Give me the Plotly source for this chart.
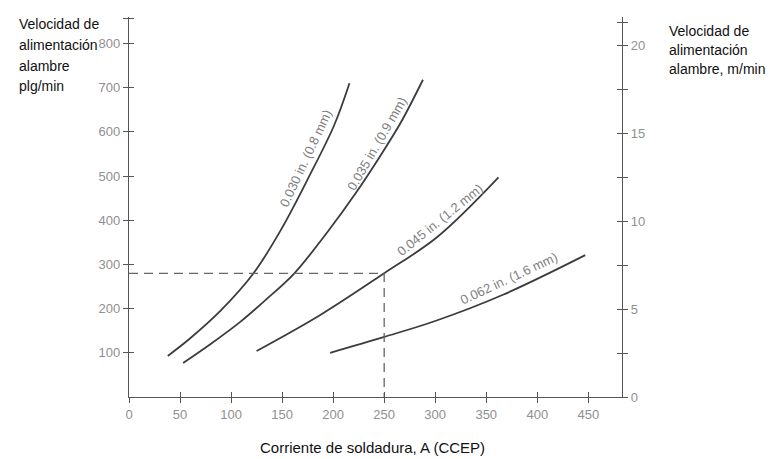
import plotly.graph_objects as go

# ---- data (welding current A, wire feed speed in/min) ----
c030_x = [38, 60, 90, 122, 150, 176, 201, 216]
c030_y = [93, 133, 196, 280, 383, 497, 615, 710]
c035_x = [53, 80, 109, 135, 162, 195, 222, 246, 266, 288]
c035_y = [77, 120, 170, 222, 280, 375, 461, 545, 620, 718]
c045_x = [125, 187, 250, 302, 362]
c045_y = [104, 185, 280, 362, 497]
c062_x = [197, 250, 300, 367, 447]
c062_y = [100, 136, 172, 232, 321]

ref_current = 250
ref_speed = 280

labels = ["0.030 in. (0.8 mm)", "0.035 in. (0.9 mm)", "0.045 in. (1.2 mm)", "0.062 in. (1.6 mm)"]
label_pos = [(173, 540, -65), (243, 574, -60), (305, 402, -39), (372, 269, -25)]

x_ticks = [0, 50, 100, 150, 200, 250, 300, 350, 400, 450]
y_left_ticks = [100, 200, 300, 400, 500, 600, 700, 800, 856]
y_left_text = ["100", "200", "300", "400", "500", "600", "700", "800", ""]
y_right_ticks = [0, 2.5, 5, 7.5, 10, 12.5, 15, 17.5, 20, 21.3]
y_right_text = ["0", "", "5", "", "10", "", "15", "", "20", ""]

X_RANGE = [0, 483]
YL_RANGE = [0, 860]
YR_RANGE = [0, 21.6]

LINE = "#3c3c3c"
AX = "#555555"
TICKC = "#8f8f8f"
FONT = "Liberation Sans, Arial, sans-serif"

fig = go.Figure()

for xs, ys in [(c030_x, c030_y), (c035_x, c035_y), (c045_x, c045_y), (c062_x, c062_y)]:
    fig.add_trace(go.Scatter(x=xs, y=ys, mode="lines", line=dict(color=LINE, width=1.8, shape="spline", smoothing=1.0),
                             showlegend=False, hoverinfo="skip"))

# reference dashed lines
fig.add_trace(go.Scatter(x=[0, ref_current, ref_current], y=[ref_speed, ref_speed, 0], mode="lines",
                         line=dict(color="#666666", width=1.3, dash="9px,6px"),
                         showlegend=False, hoverinfo="skip"))

# dummy traces to activate extra axes
fig.add_trace(go.Scatter(x=[None], y=[None], xaxis="x2", yaxis="y3", showlegend=False))
fig.add_trace(go.Scatter(x=[None], y=[None], xaxis="x", yaxis="y2", showlegend=False))
fig.add_trace(go.Scatter(x=[None], y=[None], xaxis="x", yaxis="y4", showlegend=False))

tickfont = dict(family=FONT, size=13, color=TICKC)

fig.update_layout(
    width=770, height=459,
    margin=dict(l=129, r=148, t=17, b=62),
    paper_bgcolor="white", plot_bgcolor="white",
    xaxis=dict(range=X_RANGE, showgrid=False, zeroline=False, showline=True, linecolor=AX, linewidth=1.2,
               ticks="outside", ticklen=5, tickwidth=1.2, tickcolor=AX, tickvals=x_ticks,
               tickfont=tickfont, anchor="y"),
    xaxis2=dict(range=X_RANGE, overlaying="x", showgrid=False, zeroline=False, showline=False,
                ticks="inside", ticklen=5, tickwidth=1.2, tickcolor=AX, tickvals=x_ticks,
                showticklabels=False, anchor="y", side="bottom"),
    yaxis=dict(range=YL_RANGE, showgrid=False, zeroline=False, showline=True, linecolor=AX, linewidth=1.2,
               ticks="outside", ticklen=5, tickwidth=1.2, tickcolor=AX, tickvals=y_left_ticks,
               ticktext=y_left_text, tickfont=tickfont, anchor="x"),
    yaxis3=dict(range=YL_RANGE, overlaying="y", showgrid=False, zeroline=False, showline=False,
                ticks="inside", ticklen=5, tickwidth=1.2, tickcolor=AX, tickvals=y_left_ticks,
                showticklabels=False, anchor="x", side="left"),
    yaxis2=dict(range=YR_RANGE, overlaying="y", side="right", showgrid=False, zeroline=False,
                showline=True, linecolor=AX, linewidth=1.2, ticks="outside", ticklen=5, tickwidth=1.2,
                tickcolor=AX, tickvals=y_right_ticks, ticktext=y_right_text, tickfont=tickfont, anchor="x"),
    yaxis4=dict(range=YR_RANGE, overlaying="y", side="right", showgrid=False, zeroline=False,
                showline=False, ticks="inside", ticklen=5, tickwidth=1.2, tickcolor=AX,
                tickvals=y_right_ticks, showticklabels=False, anchor="x"),
    showlegend=False,
)

ann = []
for txt, (ax_, ay_, ang) in zip(labels, label_pos):
    ann.append(dict(x=ax_, y=ay_, xref="x", yref="y", text=txt, showarrow=False, textangle=ang,
                    font=dict(family=FONT, size=13, color="#808080")))

# titles positioned in figure pixels, converted to paper coordinates
pw = 770 - 129 - 148
ph = 459 - 17 - 62


def px_ann(px, py, text, size, anchor):
    return dict(x=(px - 129) / pw, y=(459 - 62 - py) / ph, xref="paper", yref="paper",
                xanchor=anchor, yanchor="middle", text=text, showarrow=False,
                font=dict(family=FONT, size=size, color="#111111"))


left_lines = ["Velocidad de", "alimentación", "alambre", "plg/min"]
left_y = [24, 45, 66, 86]
for t, yy in zip(left_lines, left_y):
    ann.append(px_ann(17, yy, t, 14, "left"))

right_lines = ["Velocidad de", "alimentación", "alambre, m/min"]
right_y = [31, 50, 69]
for t, yy in zip(right_lines, right_y):
    ann.append(px_ann(667, yy, t, 14, "left"))

ann.append(px_ann(372, 447, "Corriente de soldadura, A (CCEP)", 15, "center"))

fig.update_layout(annotations=ann)
fig.write_html("out.html", config={"displayModeBar": False},
               post_script="document.body.style.margin='0px';document.body.style.overflow='hidden';")
